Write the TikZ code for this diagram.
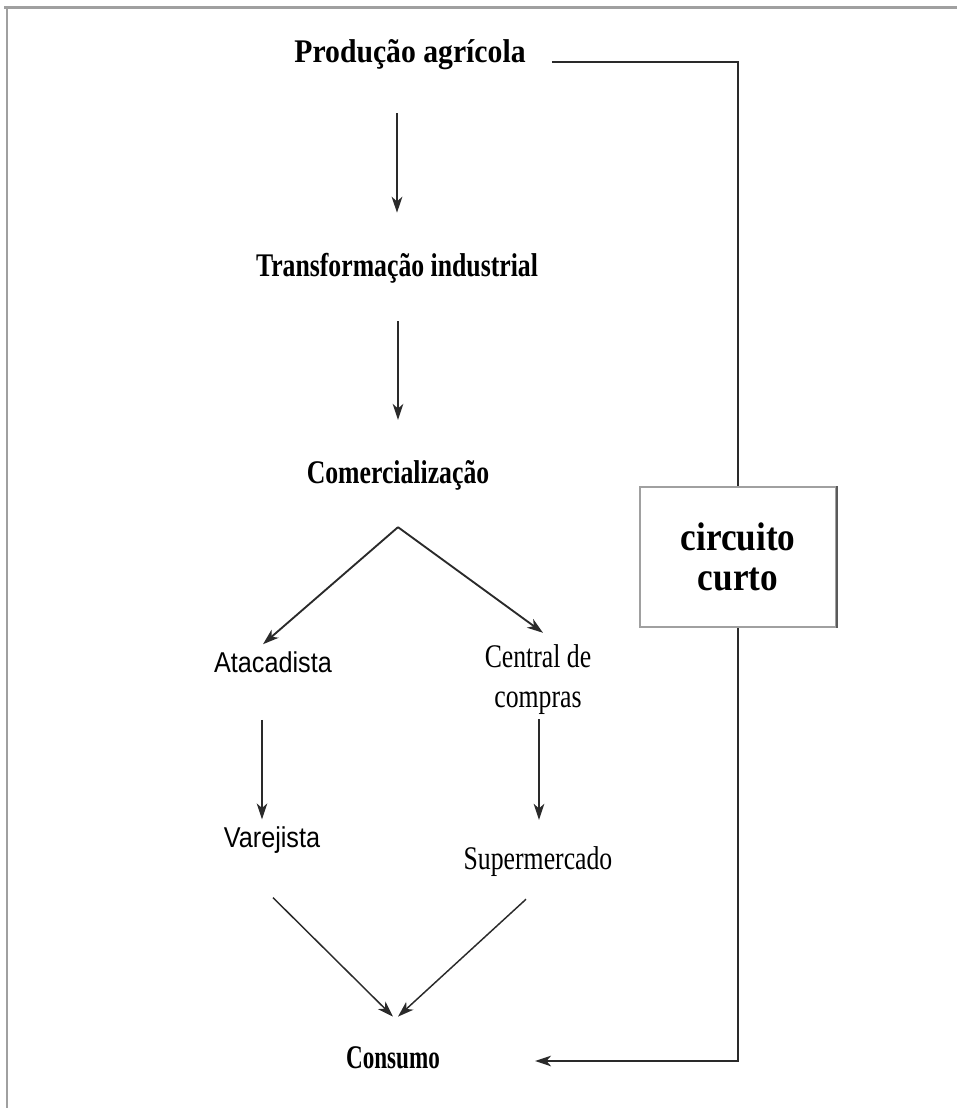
\documentclass[tikz,border=0pt]{standalone}
\usepackage{fontspec}
\setmainfont{Liberation Serif}
\newfontfamily\condserif[FakeStretch=0.78]{Liberation Serif}
\newfontfamily\wideserif[FakeStretch=0.9]{Liberation Serif}
\newfontfamily\narrowserif[FakeStretch=0.7]{Liberation Serif}
\newfontfamily\condsans[FakeStretch=0.88]{Liberation Sans}
\newfontfamily\circfont[FakeStretch=0.88]{Liberation Serif}
\usetikzlibrary{arrows.meta,calc}
\definecolor{ink}{HTML}{2A2A2A}
\definecolor{frame}{HTML}{A0A0A0}
\definecolor{boxdark}{HTML}{5A5A5A}
\begin{document}
\begin{tikzpicture}[x=0.75pt,y=-0.75pt,
  bflabel/.style={inner sep=0pt,font=\condserif\bfseries\fontsize{24.75pt}{30pt}\selectfont,text=black},
  rmlabel/.style={inner sep=0pt,font=\condserif\fontsize{24.75pt}{30pt}\selectfont,text=black,align=center},
  sflabel/.style={inner sep=0pt,font=\condsans\fontsize{21.5pt}{26pt}\selectfont,text=black},
  ccbox/.style={draw=frame,line width=1.5pt,minimum width=147pt,minimum height=105pt,inner sep=0pt,align=center,font=\circfont\bfseries\fontsize{30pt}{30pt}\selectfont,text=black},
  ln/.style={draw=ink,line width=1.1pt},
  arr/.style={ln,-{Stealth[length=12pt,width=8pt,inset=3.5pt]}}]
\useasboundingbox (0,0) rectangle (957,1108);
% frame
\draw[frame,line width=2pt] (4,7.5) -- (957,7.5);
\draw[frame,line width=2pt] (7,7.5) -- (7,1108);
% nodes
\node[bflabel,font=\wideserif\bfseries\fontsize{24.75pt}{30pt}\selectfont] (prod) at (410,55) {Produção agrícola};
\node[bflabel] (trans) at (397,268) {Transformação industrial};
\node[bflabel] (com) at (398,475) {Comercialização};
\node[sflabel] (ata) at (273,662) {Atacadista};
\node[rmlabel] (cen) at (538,680) {Central de\\compras};
\node[sflabel] (var) at (272,840) {Varejista};
\node[rmlabel] (sup) at (538,862) {Supermercado};
\node[bflabel,font=\narrowserif\bfseries\fontsize{24.75pt}{30pt}\selectfont] (cons) at (393,1058) {Consumo};
\node[ccbox] (cc) at (738,557) {circuito\\curto};
\draw[boxdark,line width=2pt] (cc.north east) -- (cc.south east);
% vertical arrows
\draw[arr] ($(trans.north |- prod.south)+(0,43)$) -- ($(trans.north)+(0,-40)$);
\draw[arr] ($(com.north |- trans.south)+(0,38)$) -- ($(com.north)+(0,-40)$);
\path (com.south) ++(0,37) coordinate (fork);
\draw[arr,line width=1.4pt] (fork) -- ($(ata.north)+(-10,-7)$);
\draw[arr,line width=1.4pt] (fork) -- ($(cen.north)+(5,-12)$);
\draw[arr] ($(ata.south -| var.north)+(-10,47)$) -- ($(var.north)+(-10,-7)$);
\draw[arr] ($(cen.south)+(1,4)$) -- ($(sup.north)+(1,-27)$);
\draw[arr] ($(var.south)+(1,44)$) -- ($(cons.north)+(0,-30)$);
\draw[arr] ($(sup.south)+(-12,22)$) -- ($(cons.north)+(5,-30)$);
% short circuit
\draw[ln] ($(prod.east)+(26,7)$) -| (cc.north);
\draw[arr] (cc.south) |- ($(cons.east)+(95,3)$);
\end{tikzpicture}
\end{document}
